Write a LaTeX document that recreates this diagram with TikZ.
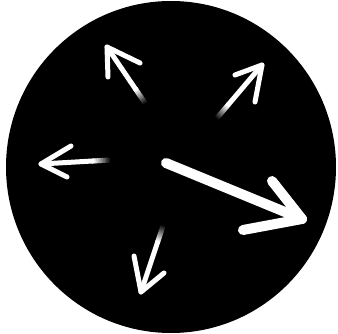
\documentclass[tikz,border=0pt]{standalone}
\usetikzlibrary{calc}
\begin{document}
\begin{tikzpicture}[x=1pt,y=-1pt,
  arr/.style={draw=white,line width=5pt,line cap=round,line join=round},
  bigarr/.style={draw=white,line width=10pt,line cap=round,line join=round}]
\useasboundingbox (0,0) rectangle (338,334);
\fill[white] (0,0) rectangle (338,334);
\fill[black] (171,167) ellipse [x radius=165, y radius=166];
% fading tail helper
\newcommand{\fadetail}[3]{% tail, head, width
  \foreach \i in {0,...,9}{
    \pgfmathsetmacro{\a}{\i*0.025}
    \pgfmathsetmacro{\b}{(\i+1)*0.025+0.01}
    \pgfmathsetmacro{\c}{(\i+1)*10}
    \draw[white!\c!black,line width=#3] ($(#1)!\a!(#2)$) -- ($(#1)!\b!(#2)$);
  }}
% upper-left arrow
\coordinate (a1t) at (145,103); \coordinate (a1h) at (107,47);
\coordinate (a1l) at (108,77); \coordinate (a1r) at (140,63);
\draw[arr] ($(a1t)!0.25!(a1h)$) -- (a1h);
\draw[arr] (a1l) -- (a1h) -- (a1r);
\fadetail{a1t}{a1h}{5pt}
% upper-right arrow
\coordinate (a2t) at (217,118); \coordinate (a2h) at (262,65);
\coordinate (a2l) at (235,75); \coordinate (a2r) at (255,102);
\draw[arr] ($(a2t)!0.25!(a2h)$) -- (a2h);
\draw[arr] (a2l) -- (a2h) -- (a2r);
\fadetail{a2t}{a2h}{5pt}
% left arrow
\coordinate (a3t) at (110,160); \coordinate (a3h) at (41,164);
\coordinate (a3l) at (71,146); \coordinate (a3r) at (67,177);
\draw[arr] ($(a3t)!0.25!(a3h)$) -- (a3h);
\draw[arr] (a3l) -- (a3h) -- (a3r);
\fadetail{a3t}{a3h}{5pt}
% lower-left arrow
\coordinate (a4t) at (163,226); \coordinate (a4h) at (141,292);
\coordinate (a4l) at (134,256); \coordinate (a4r) at (164,273);
\draw[arr] ($(a4t)!0.25!(a4h)$) -- (a4h);
\draw[arr] (a4l) -- (a4h) -- (a4r);
\fadetail{a4t}{a4h}{5pt}
% big arrow
\coordinate (a5t) at (166,163); \coordinate (a5h) at (302,219);
\coordinate (a5l) at (272,181); \coordinate (a5r) at (243,230);
\draw[bigarr] (a5t) -- (a5h);
\draw[bigarr] (a5l) -- (a5h) -- (a5r);
\end{tikzpicture}
\end{document}
